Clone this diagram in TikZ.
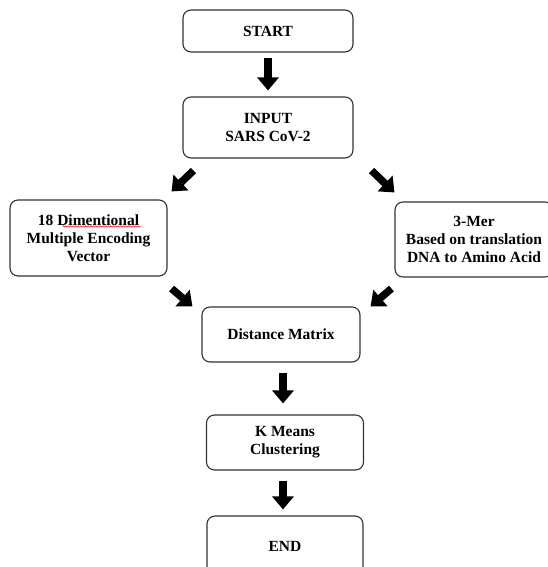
\documentclass[tikz,border=0pt]{standalone}
\usepackage{fontspec}
\setmainfont{Liberation Serif}
\usetikzlibrary{arrows.meta,calc,decorations.pathmorphing}
\tikzset{
  box/.style={draw=black!80, line width=1.1pt, rounded corners=8pt, fill=white,
    align=center, font=\fontsize{15.5}{18}\selectfont\bfseries, inner sep=0pt},
  blockarrow/.style={line width=7.5pt, -{Triangle[width=21pt,length=13pt]}},
}
\begin{document}
\begin{tikzpicture}[x=1pt,y=-1pt]
\clip (0,0) rectangle (548,567);
\useasboundingbox (0,0) rectangle (548,567);
\node[box, minimum width=170pt, minimum height=42pt] (start) at (268,31) {START};
\node[box, minimum width=170pt, minimum height=61pt] (input) at (268,127.5) {INPUT\\SARS CoV-2};
\node[box, minimum width=157pt, minimum height=76pt] (left) at (88.5,238) {18 \smash{Dimentional}\\Multiple Encoding\\Vector};
\node[box, minimum width=158pt, minimum height=75pt] (right) at (474,239.5) {3-Mer\\Based on translation\\DNA to Amino Acid};
\node[box, minimum width=158pt, minimum height=55pt] (dm) at (281,334.5) {Distance Matrix};
\node[box, minimum width=157pt, minimum height=55pt] (km) at (285,442.5) {K Means\\Clustering};
\node[box, minimum width=156pt, minimum height=70pt] (end) at (285,551) {\raisebox{10pt}{END}};
% spell-check underline
\coordinate (sq1) at ($(left.north)+(-26,27)$);
\coordinate (sq2) at ($(left.north)+(52,27)$);
\draw[red, line width=0.5pt, decorate, decoration={snake, amplitude=0.7pt, segment length=2.5pt}] (sq1) -- (sq2);
% arrows
\draw[blockarrow] ($(start.south)+(0,5)$) -- ($(input.north)+(0,-6)$);
\draw[blockarrow] ($(input.south west)+(11,12)$) -- ($(left.north east)+(4,-8)$);
\draw[blockarrow] ($(input.south east)+(18,12)$) -- ($(right.north west)+(0,-9)$);
\draw[blockarrow] ($(left.south east)+(4,12)$) -- ($(dm.north west)+(-9,0)$);
\draw[blockarrow] ($(right.south west)+(-3,11)$) -- ($(dm.north east)+(10,0)$);
\draw[blockarrow] ($(dm.south)+(2,10)$) -- ($(km.north)+(-2,-11)$);
\draw[blockarrow] ($(km.south)+(-2,10)$) -- ($(end.north)+(-2,-6)$);
\end{tikzpicture}
\end{document}
